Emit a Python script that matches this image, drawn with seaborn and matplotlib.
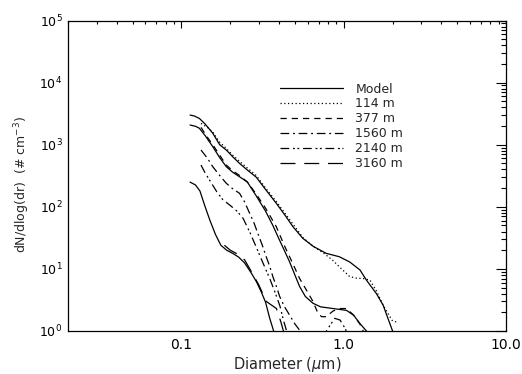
import numpy as np
import pandas as pd
import matplotlib
matplotlib.use("Agg")
import matplotlib.pyplot as plt
import seaborn as sns
from matplotlib.ticker import FixedLocator, NullFormatter, LogLocator

# ---------------- data ----------------
model_a_d = [0.113, 0.12, 0.129, 0.14, 0.156, 0.172, 0.189, 0.207, 0.228, 0.255, 0.289, 0.33, 0.384, 0.44, 0.486, 0.56, 0.65, 0.78, 0.94, 1.09, 1.26, 1.38, 1.59, 1.75, 2.0]
model_a_v = [3000, 2900, 2650, 2150, 1530, 1000, 820, 640, 500, 390, 300, 190, 114, 70, 48, 31, 23, 17.8, 15.7, 12.9, 9.6, 6.6, 4.0, 2.6, 1.0]

m114_d = [0.132, 0.145, 0.156, 0.172, 0.189, 0.207, 0.228, 0.255, 0.289, 0.33, 0.384, 0.44, 0.5, 0.56, 0.65, 0.75, 0.85, 0.94, 1.09, 1.2, 1.32, 1.45, 1.6, 1.75, 1.9, 2.0, 2.11]
m114_v = [2200, 1900, 1600, 1100, 870, 680, 540, 420, 320, 200, 122, 75, 48, 32, 23, 18, 14, 10.8, 7.5, 7.1, 7.0, 6.6, 4.3, 2.6, 1.8, 1.45, 1.4]

model_b_d = [0.113, 0.122, 0.129, 0.14, 0.156, 0.172, 0.189, 0.207, 0.228, 0.255, 0.289, 0.33, 0.366, 0.40, 0.43, 0.464, 0.5, 0.535, 0.58, 0.646, 0.72, 0.859, 1.04, 1.15, 1.256, 1.38]
model_b_v = [2076, 1980, 1840, 1400, 930, 620, 442, 360, 305, 250, 150, 85, 50, 30, 20, 13, 8, 5.2, 3.6, 2.8, 2.45, 2.3, 2.15, 1.8, 1.33, 1.0]

m377_d = [0.132, 0.145, 0.156, 0.172, 0.189, 0.207, 0.228, 0.255, 0.289, 0.33, 0.384, 0.43, 0.48, 0.535, 0.6, 0.646, 0.69, 0.73, 0.78, 0.86, 0.95, 1.04, 1.15, 1.256, 1.32]
m377_v = [1900, 1300, 1000, 680, 470, 380, 320, 250, 160, 95, 48, 24, 13, 7, 4.2, 3.0, 2.0, 1.7, 1.7, 2.1, 2.3, 2.3, 1.8, 1.3, 1.0]

m1560_d = [0.132, 0.145, 0.156, 0.172, 0.189, 0.207, 0.228, 0.245, 0.263, 0.28, 0.296, 0.315, 0.333, 0.35, 0.366, 0.385, 0.403, 0.43, 0.464, 0.5, 0.54]
m1560_v = [820, 600, 442, 320, 239, 195, 165, 120, 79, 55, 37, 24, 15.7, 11, 7.5, 5.2, 3.6, 2.5, 1.8, 1.3, 1.0]

m2140_d = [0.132, 0.14, 0.149, 0.165, 0.18, 0.2, 0.22, 0.24, 0.265, 0.29, 0.32, 0.35, 0.38, 0.405, 0.425, 0.45, 0.5, 0.6, 0.72, 0.8, 0.88, 0.95, 1.02, 1.1]
m2140_v = [470, 350, 270, 175, 130, 105, 85, 65, 38, 22, 12, 7, 4, 2.5, 1.5, 0.9, 0.5, 0.4, 0.7, 1.1, 1.6, 1.5, 1.1, 0.7]

model_c_d = [0.113, 0.122, 0.13, 0.14, 0.15, 0.162, 0.175, 0.19, 0.207, 0.225, 0.245, 0.27, 0.29, 0.31, 0.33, 0.35, 0.37]
model_c_v = [250, 225, 180, 100, 60, 36, 24, 20, 17.8, 15.5, 12.5, 8.5, 6.2, 4.3, 2.9, 1.6, 1.0]

m3160_d = [0.184, 0.2, 0.22, 0.245, 0.27, 0.3, 0.333, 0.36, 0.385, 0.41, 0.425]
m3160_v = [24, 20, 17.5, 14, 9, 5.5, 3.0, 2.6, 2.3, 1.4, 1.0]

labels = ["Model", "114 m", "377 m", "1560 m", "2140 m", "3160 m"]
x_ticks = [0.1, 1.0, 10.0]
x_ticklabels = ["0.1", "1.0", "10.0"]
y_ticks = [1, 10, 100, 1000, 10000, 100000]
y_ticklabels = [r"$10^{%d}$" % i for i in range(6)]

# ---------------- styling ----------------
sns.set_theme(style="white")
plt.rcParams["font.family"] = ["DejaVu Sans"]
plt.rcParams["mathtext.fontset"] = "dejavusans"

fig = plt.figure(figsize=(5.22, 3.74), dpi=100)
ax = fig.add_axes([68 / 522, 1 - 331 / 374, (506 - 68) / 522, (331 - 20.5) / 374])

styles = {
    "solid": "-",
    "114": (0, (1, 2)),
    "377": (0, (5, 4)),
    "1560": (0, (7, 3, 1.5, 3)),
    "2140": (0, (7, 3, 1.5, 2, 1.5, 3)),
    "3160": (0, (12, 7)),
}

def draw(d, v, ls, label=None):
    df = pd.DataFrame({"d": d, "v": v})
    sns.lineplot(data=df, x="d", y="v", ax=ax, color="black", lw=0.9,
                 linestyle=ls, label=label, sort=False, estimator=None)

draw(model_a_d, model_a_v, styles["solid"], labels[0])
draw(m114_d, m114_v, styles["114"], labels[1])
draw(m377_d, m377_v, styles["377"], labels[2])
draw(m1560_d, m1560_v, styles["1560"], labels[3])
draw(m2140_d, m2140_v, styles["2140"], labels[4])
draw(m3160_d, m3160_v, styles["3160"], labels[5])
draw(model_b_d, model_b_v, styles["solid"])
draw(model_c_d, model_c_v, styles["solid"])

ax.set_xscale("log")
ax.set_yscale("log")
ax.set_xlim(0.02, 10)
ax.set_ylim(1, 1e5)

ax.xaxis.set_major_locator(FixedLocator(x_ticks))
ax.set_xticklabels(x_ticklabels)
ax.xaxis.set_minor_locator(LogLocator(base=10, subs=np.arange(2, 10)))
ax.xaxis.set_minor_formatter(NullFormatter())
ax.yaxis.set_major_locator(FixedLocator(y_ticks))
ax.set_yticklabels(y_ticklabels)
ax.yaxis.set_minor_locator(LogLocator(base=10, subs=np.arange(2, 10)))
ax.yaxis.set_minor_formatter(NullFormatter())

ax.tick_params(axis="both", which="both", direction="in", top=True, right=True,
               colors="black", width=0.8)
ax.tick_params(axis="x", which="major", length=5, pad=5, labelsize=10)
ax.tick_params(axis="x", which="minor", length=2.5)
ax.tick_params(axis="y", which="major", length=7, pad=4, labelsize=9)
ax.tick_params(axis="y", which="minor", length=3.5)

for s in ax.spines.values():
    s.set_color("black")
    s.set_linewidth(0.9)

ax.set_xlabel(r"Diameter ($\mu$m)", fontsize=10.5, labelpad=2)
ax.set_ylabel(r"dN/dlog(dr)  (# cm$^{-3}$)", fontsize=9, labelpad=1)
ax.yaxis.set_label_coords(-0.082, 0.47)

leg = ax.legend(loc="upper left", bbox_to_anchor=(0.485, 0.80), frameon=False,
                fontsize=9, handlelength=5.0, handletextpad=1.0,
                labelspacing=0.15, borderaxespad=0, borderpad=0)

fig.savefig("out.png", dpi=100)
